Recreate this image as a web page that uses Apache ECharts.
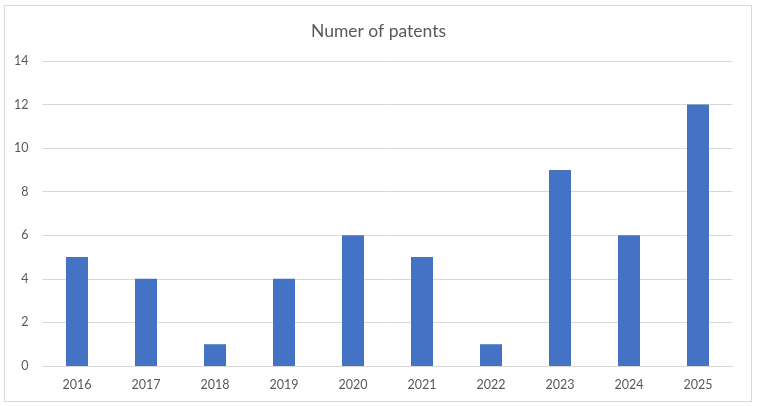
<!DOCTYPE html>
<html><head><meta charset="utf-8">
<script src="https://cdn.jsdelivr.net/npm/echarts@6/dist/echarts.min.js"></script>
<style>html,body{margin:0;padding:0;background:#fff}#wrap{position:absolute;left:4px;top:5px;width:748px;height:397px;border:1px solid #d9d9d9;box-sizing:border-box}#c{position:absolute;left:0;top:0;width:757px;height:406px}</style>
</head><body><div id="wrap"></div><div id="c"></div>
<script>
const categories = ['2016','2017','2018','2019','2020','2021','2022','2023','2024','2025'];
const patents = [5,4,1,4,6,5,1,9,6,12];
const titleText = 'Numer of patents';
const chart = echarts.init(document.getElementById('c'));
const font = 'Lato, "Liberation Sans", sans-serif';
chart.setOption({
  animation:false,
  title:{text:titleText,left:'center',top:17,textStyle:{fontFamily:font,fontSize:17.5,fontWeight:'normal',color:'#595959'}},
  grid:{left:42.5,right:24.5,top:61,bottom:40,containLabel:false},
  xAxis:{type:'category',data:categories,axisTick:{show:false},axisLine:{lineStyle:{color:'#d9d9d9'}},
    axisLabel:{fontFamily:font,fontSize:12.5,color:'#595959',margin:12}},
  yAxis:{type:'value',min:0,max:14,interval:2,axisLine:{show:false},axisTick:{show:false},
    splitLine:{lineStyle:{color:'#d9d9d9'}},axisLabel:{fontFamily:font,fontSize:12.5,color:'#595959',margin:14}},
  series:[{type:'bar',data:patents,barWidth:22,itemStyle:{color:'#4472C4'}}]
});
</script></body></html>
